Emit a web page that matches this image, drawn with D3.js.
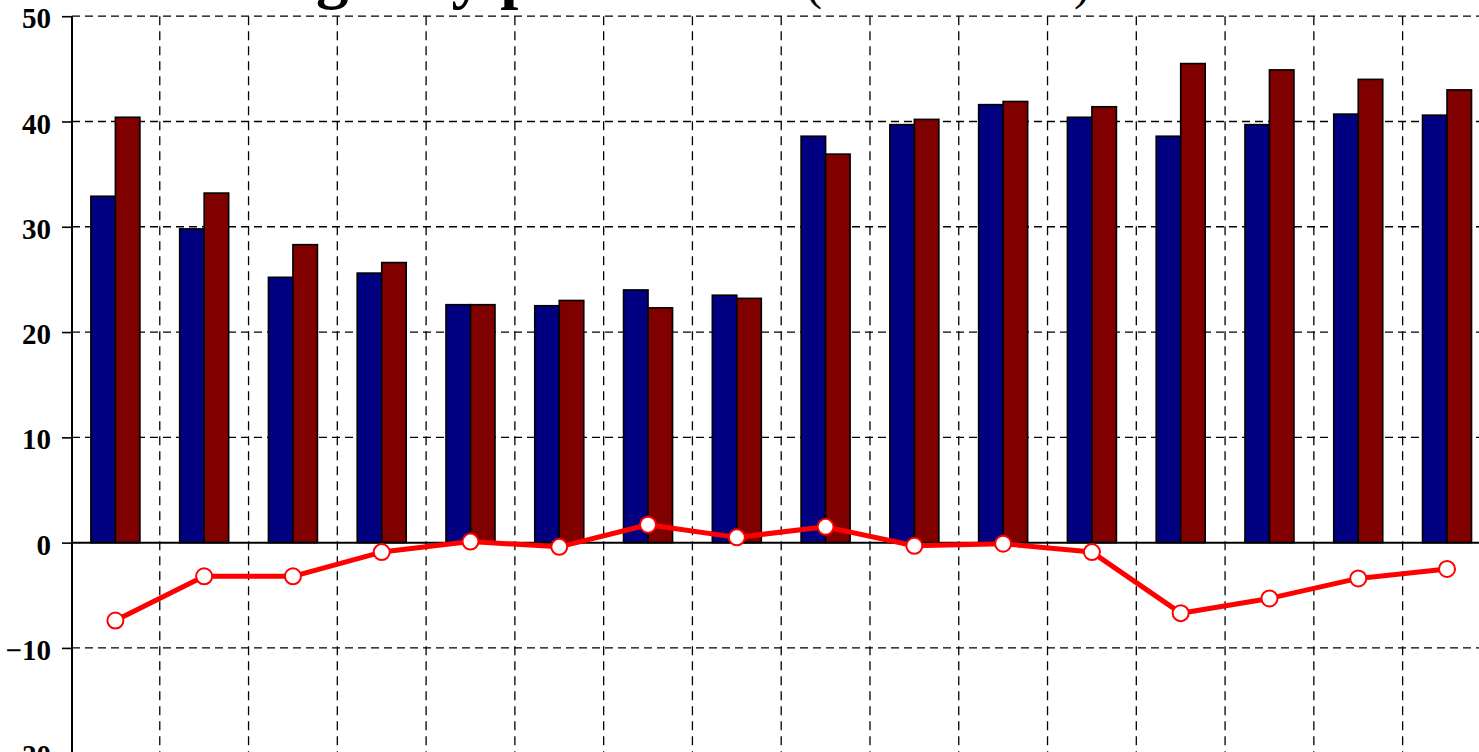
<!DOCTYPE html>
<meta charset="utf-8">
<script src="https://d3js.org/d3.v7.min.js"></script>
<style>
  body { margin: 0; background: #fff; overflow: hidden; }
  svg { display: block; }
</style>
<div id="chart"></div>

<script>
// chart data (values in % of GDP)
var categories = ["A", "B", "C", "D", "E", "F", "G", "H",
                  "I", "J", "K", "L", "M", "N", "O", "P"];

var revenue = [32.9, 29.8, 25.2, 25.6, 22.6, 22.5, 24.0, 23.5,
               38.6, 39.7, 41.6, 40.4, 38.6, 39.7, 40.7, 40.6];

var spending = [40.4, 33.2, 28.3, 26.6, 22.6, 23.0, 22.3, 23.2,
                36.9, 40.2, 41.9, 41.4, 45.5, 44.9, 44.0, 43.0];

var balance = [-7.4, -3.2, -3.2, -0.9, 0.1, -0.4, 1.7, 0.5,
               1.5, -0.3, -0.1, -0.9, -6.7, -5.3, -3.4, -2.5];

var yTicks = [-20, -10, 0, 10, 20, 30, 40, 50];

var titleMain = "State budget by province";
var titleSub = "(as % of GDP)";

//----------------drawing stuff---------------------
var W = 1479, H = 752;

var svg = d3.select("#chart")
  .append("svg")
  .attr("width", W)
  .attr("height", H);

var xs = d3.scaleBand()
  .domain(categories)
  .range([71, 1491.4])
  .padding(0);

var ys = d3.scaleLinear()
  .domain([-20, 50])
  .range([753.2, 16.2]);

var barW = 24.5;
var axisX = 72;

//grid lines (dashed)
var grid = svg.append("g");

yTicks.filter(function(t) { return t != 0; }).forEach(function(t) {
  grid.append("line")
    .attr("x1", axisX).attr("x2", W)
    .attr("y1", ys(t)).attr("y2", ys(t))
    .attr("stroke", "#000")
    .attr("stroke-width", 1.3)
    .attr("stroke-dasharray", "8,5");
});

categories.slice(1).forEach(function(c) {
  grid.append("line")
    .attr("x1", xs(c)).attr("x2", xs(c))
    .attr("y1", ys(50)).attr("y2", H + 20)
    .attr("stroke", "#000")
    .attr("stroke-width", 1.3)
    .attr("stroke-dasharray", "9,6");
});

//bars
var bars = svg.append("g");

bars.selectAll(".rev")
  .data(revenue)
  .enter().append("rect")
  .attr("x", function(d, i) { return xs(categories[i]) + xs.bandwidth() / 2 - barW; })
  .attr("y", function(d) { return ys(Math.max(d, 0)); })
  .attr("width", barW)
  .attr("height", function(d) { return Math.abs(ys(d) - ys(0)); })
  .attr("fill", "#000080")
  .attr("stroke", "#000")
  .attr("stroke-width", 1.6);

bars.selectAll(".spe")
  .data(spending)
  .enter().append("rect")
  .attr("x", function(d, i) { return xs(categories[i]) + xs.bandwidth() / 2; })
  .attr("y", function(d) { return ys(Math.max(d, 0)); })
  .attr("width", barW)
  .attr("height", function(d) { return Math.abs(ys(d) - ys(0)); })
  .attr("fill", "#800000")
  .attr("stroke", "#000")
  .attr("stroke-width", 1.6);

//zero line
svg.append("line")
  .attr("x1", axisX).attr("x2", W)
  .attr("y1", ys(0)).attr("y2", ys(0))
  .attr("stroke", "#000")
  .attr("stroke-width", 2);

//y axis
var yAxis = svg.append("g")
  .attr("transform", "translate(" + axisX + ",0)")
  .call(d3.axisLeft(ys).tickValues(yTicks).tickSize(10).tickPadding(11));

yAxis.select(".domain").remove();
yAxis.selectAll(".tick line").attr("stroke", "#000").attr("stroke-width", 1.6);
yAxis.selectAll(".tick text")
  .attr("fill", "#000")
  .attr("dy", "0.4em")
  .style("font-family", "'Liberation Serif', 'Times New Roman', serif")
  .style("font-weight", "bold")
  .style("font-size", "29px");

svg.append("line")
  .attr("x1", axisX).attr("x2", axisX)
  .attr("y1", ys(50)).attr("y2", H + 20)
  .attr("stroke", "#000")
  .attr("stroke-width", 2);

//balance line
var line = d3.line()
  .x(function(d, i) { return xs(categories[i]) + xs.bandwidth() / 2; })
  .y(function(d) { return ys(d); });

svg.append("path")
  .datum(balance)
  .attr("d", line)
  .attr("fill", "none")
  .attr("stroke", "#ff0000")
  .attr("stroke-width", 5)
  .attr("stroke-linejoin", "round");

svg.selectAll(".pt")
  .data(balance)
  .enter().append("circle")
  .attr("cx", function(d, i) { return xs(categories[i]) + xs.bandwidth() / 2; })
  .attr("cy", function(d) { return ys(d); })
  .attr("r", 8)
  .attr("fill", "#fff")
  .attr("stroke", "#ff0000")
  .attr("stroke-width", 2);

//title (mostly above the visible area)
svg.append("text")
  .attr("x", 741)
  .attr("y", -4)
  .style("text-anchor", "end")
  .style("font-family", "'Liberation Serif', 'Times New Roman', serif")
  .style("font-weight", "bold")
  .style("font-size", "65px")
  .text(titleMain);

svg.append("text")
  .attr("x", 806)
  .attr("y", -1)
  .style("font-family", "'Liberation Serif', 'Times New Roman', serif")
  .style("font-size", "48px")
  .text(titleSub);
</script>
